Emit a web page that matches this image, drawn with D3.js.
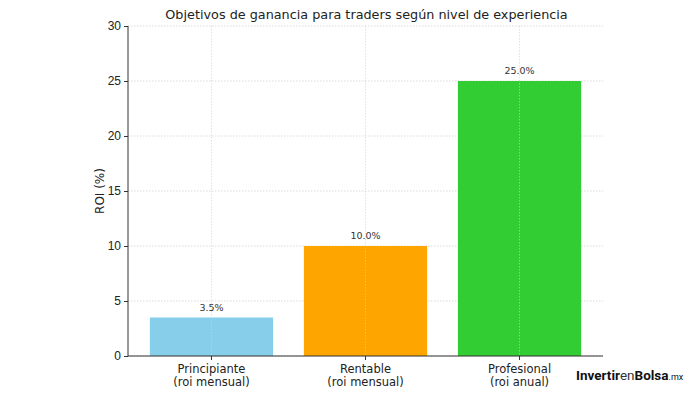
<!DOCTYPE html>
<html>
<head>
<meta charset="utf-8">
<script src="https://cdn.jsdelivr.net/npm/d3@7"></script>
<style>
  body { margin: 0; background: #fff; }
  svg { font-family: "DejaVu Sans", sans-serif; }
</style>
</head>
<body>
<div id="chart"></div>
<script>
// data
const categories = ["Principiante", "Rentable", "Profesional"];
const subLabels = ["(roi mensual)", "(roi mensual)", "(roi anual)"];
const roiValues = [3.5, 10.0, 25.0];
const barColors = ["#87CEEB", "#FFA500", "#32CD32"];
const yTicks = [0, 5, 10, 15, 20, 25, 30];

const W = 700, H = 393;
const margin = {top: 26, right: 97, bottom: 37, left: 128};
const width = W - margin.left - margin.right,
    height = H - margin.top - margin.bottom;

const svg = d3.select("#chart").append("svg")
    .attr("width", W)
    .attr("height", H)
    .append("g")
    .attr("transform", "translate(" + margin.left + "," + margin.top + ")");

const x = d3.scaleBand()
    .domain(categories)
    .range([0, width])
    .paddingInner(0.2)
    .paddingOuter(0.142);

const y = d3.scaleLinear()
    .domain([0, 30])
    .range([height, 0]);

// grid
svg.append("g").selectAll("line.hg")
    .data(yTicks)
    .enter().append("line")
    .attr("x1", 0).attr("x2", width)
    .attr("y1", d => y(d)).attr("y2", d => y(d))
    .attr("stroke", "#d0d0d0")
    .attr("stroke-width", 0.8)
    .attr("stroke-dasharray", "1.5,1.5");

// bars
svg.append("g").selectAll("rect")
    .data(categories)
    .enter().append("rect")
    .attr("x", d => x(d))
    .attr("y", (d, i) => y(roiValues[i]))
    .attr("width", x.bandwidth())
    .attr("height", (d, i) => height - y(roiValues[i]))
    .attr("fill", (d, i) => barColors[i]);

// vertical grid over bars
svg.append("g").selectAll("line.vg")
    .data(categories)
    .enter().append("line")
    .attr("x1", d => x(d) + x.bandwidth() / 2).attr("x2", d => x(d) + x.bandwidth() / 2)
    .attr("y1", 0).attr("y2", height)
    .attr("stroke", "#d0d0d0")
    .attr("stroke-opacity", 0.8)
    .attr("stroke-width", 0.8)
    .attr("stroke-dasharray", "1.5,1.5");

// value labels
svg.append("g").selectAll("text")
    .data(categories)
    .enter().append("text")
    .attr("x", d => x(d) + x.bandwidth() / 2)
    .attr("y", (d, i) => y(roiValues[i]) - 7)
    .attr("text-anchor", "middle")
    .attr("font-size", "9.5px")
    .attr("fill", "#333")
    .text((d, i) => roiValues[i].toFixed(1) + "%");

// axes
const yAxis = d3.axisLeft(y).tickValues(yTicks).tickSize(4).tickPadding(3);
const gy = svg.append("g").attr("class", "y-axis").call(yAxis);
gy.selectAll("text").attr("font-size", "12px").attr("fill", "#222");
gy.selectAll("line").attr("stroke", "#333");
gy.select(".domain").attr("stroke", "#333").attr("d", "M0," + height + "V0");

const xAxis = d3.axisBottom(x).tickSize(4).tickFormat("");
const gx = svg.append("g").attr("class", "x-axis")
    .attr("transform", "translate(0," + height + ")")
    .call(xAxis);
gx.selectAll("line").attr("stroke", "#333");
gx.select(".domain").attr("stroke", "#333").attr("d", "M0,0H" + width);

// category labels on two lines
const catText = svg.append("g").selectAll("text")
    .data(categories)
    .enter().append("text")
    .attr("x", d => x(d) + x.bandwidth() / 2)
    .attr("y", height + 17)
    .attr("text-anchor", "middle")
    .attr("font-size", "11.5px")
    .attr("fill", "#222");
catText.append("tspan").text(d => d);
catText.append("tspan")
    .attr("x", d => x(d) + x.bandwidth() / 2)
    .attr("dy", 13)
    .text((d, i) => subLabels[i]);

// y label
svg.append("text")
    .attr("transform", "translate(-24," + (height / 2) + ") rotate(-90)")
    .attr("text-anchor", "middle")
    .attr("font-size", "12px")
    .attr("fill", "#222")
    .text("ROI (%)");

// title
svg.append("text")
    .attr("x", width / 2 + 1)
    .attr("y", -7)
    .attr("text-anchor", "middle")
    .attr("font-size", "12.8px")
    .attr("fill", "#222")
    .text("Objetivos de ganancia para traders según nivel de experiencia");

// watermark
const logo = d3.select("svg").append("text")
    .attr("x", 576)
    .attr("y", 380)
    .attr("font-family", "Roboto, sans-serif")
    .attr("fill", "#111");
logo.append("tspan").attr("font-weight", "bold").attr("font-size", "13.5px").text("Invertir");
logo.append("tspan").attr("font-size", "13.5px").attr("fill", "#333").text("en");
logo.append("tspan").attr("font-weight", "bold").attr("font-size", "13.5px").text("Bolsa");
logo.append("tspan").attr("font-size", "9px").text(".mx");
</script>
</body>
</html>
